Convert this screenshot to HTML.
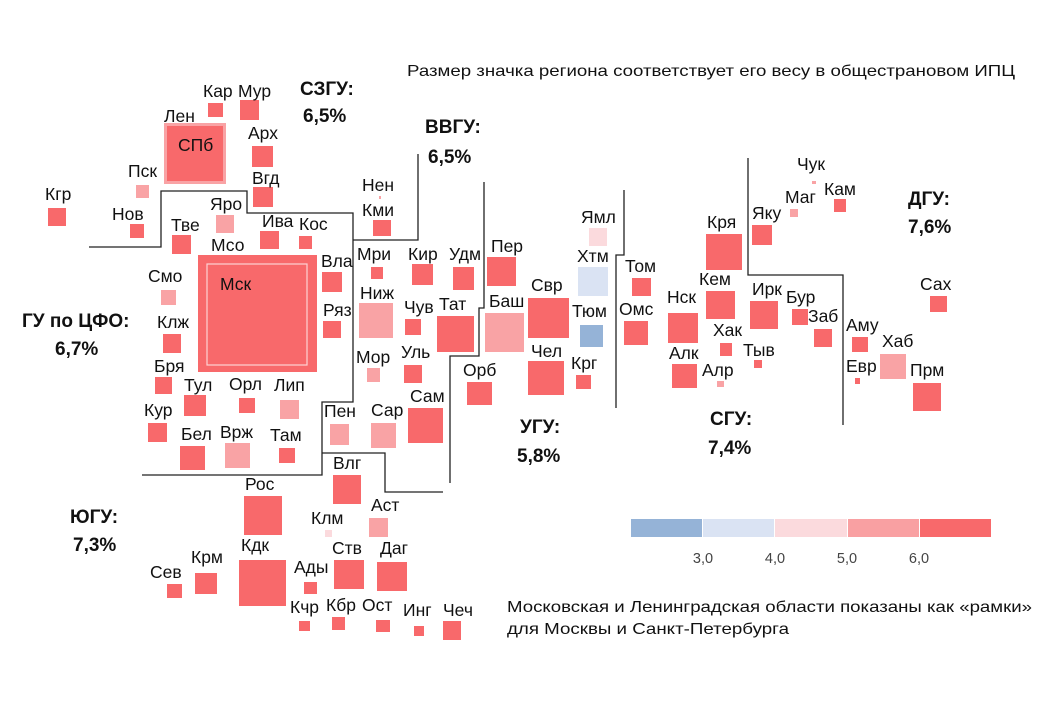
<!DOCTYPE html>
<html><head><meta charset="utf-8"><style>
html,body{margin:0;padding:0;background:#fff;}
svg{display:block;}
text{font-family:"Liberation Sans",sans-serif;fill:#111;}
.l{font-size:17.5px;}
.b{font-size:19px;font-weight:bold;}
</style></head><body>
<svg width="1040" height="720" viewBox="0 0 1040 720">
<g fill="none" stroke="#222" stroke-width="1.3">
<polyline points="89,247 161,247 161,191 247,191 247,213 353,213 353,402 322,402 322,475 142,475"/>
<polyline points="322,453 385,453 385,492 443,492"/>
<polyline points="353,240 418,240 418,154"/>
<polyline points="484,182 484,308 479,308 479,356 450,356 450,483"/>
<polyline points="624,190 624,255 616,255 616,408"/>
<polyline points="748,158 748,275 843,275 843,425"/>
</g>
<g fill="#F8696B">
<rect x="208" y="103" width="15" height="14"/>
<rect x="240" y="100" width="19" height="20"/>
<rect x="164" y="123" width="62" height="61" fill="#F9A3A5"/>
<rect x="167" y="126" width="56" height="55"/>
<rect x="252" y="146" width="21" height="21"/>
<rect x="253" y="187" width="20" height="20"/>
<rect x="136" y="185" width="13" height="13" fill="#F9A3A5"/>
<rect x="48" y="208" width="18" height="18"/>
<rect x="130" y="224" width="14" height="14"/>
<rect x="216" y="215" width="18" height="18" fill="#F9A3A5"/>
<rect x="172" y="235" width="19" height="19"/>
<rect x="260" y="231" width="19" height="18"/>
<rect x="299" y="236" width="13" height="13"/>
<rect x="198" y="255" width="119" height="117"/>
<rect x="207" y="264" width="100" height="101" fill="none" stroke="#fff" stroke-width="1.2" opacity=".7"/>
<rect x="161" y="290" width="15" height="15" fill="#F9A3A5"/>
<rect x="163" y="334" width="18" height="19"/>
<rect x="155" y="377" width="17" height="17"/>
<rect x="184" y="395" width="22" height="21"/>
<rect x="239" y="398" width="16" height="15"/>
<rect x="280" y="400" width="19" height="19" fill="#F9A3A5"/>
<rect x="148" y="423" width="19" height="19"/>
<rect x="180" y="446" width="25" height="24"/>
<rect x="225" y="443" width="25" height="25" fill="#F9A3A5"/>
<rect x="279" y="448" width="16" height="15"/>
<rect x="322" y="272" width="20" height="20"/>
<rect x="323" y="321" width="18" height="17"/>
<rect x="371" y="267" width="12" height="12"/>
<rect x="412" y="264" width="21" height="21"/>
<rect x="453" y="267" width="21" height="23"/>
<rect x="359" y="303" width="34" height="35" fill="#F9A3A5"/>
<rect x="405" y="319" width="16" height="16"/>
<rect x="437" y="316" width="37" height="36"/>
<rect x="367" y="368" width="13" height="14" fill="#F9A3A5"/>
<rect x="404" y="365" width="18" height="18"/>
<rect x="330" y="424" width="19" height="21" fill="#F9A3A5"/>
<rect x="371" y="423" width="25" height="25" fill="#F9A3A5"/>
<rect x="408" y="408" width="35" height="35"/>
<rect x="379" y="196" width="2" height="3" fill="#F9A3A5"/>
<rect x="373" y="220" width="18" height="16"/>
<rect x="487" y="257" width="29" height="29"/>
<rect x="485" y="313" width="39" height="39" fill="#F9A3A5"/>
<rect x="528" y="298" width="41" height="40"/>
<rect x="528" y="361" width="36" height="34"/>
<rect x="467" y="382" width="25" height="23"/>
<rect x="589" y="228" width="18" height="18" fill="#FBDADD"/>
<rect x="578" y="267" width="30" height="29" fill="#DAE3F3"/>
<rect x="580" y="325" width="23" height="22" fill="#95B3D7"/>
<rect x="576" y="375" width="15" height="14"/>
<rect x="632" y="278" width="19" height="18"/>
<rect x="624" y="321" width="24" height="24"/>
<rect x="668" y="313" width="30" height="30"/>
<rect x="672" y="364" width="25" height="24"/>
<rect x="706" y="234" width="36" height="36"/>
<rect x="706" y="291" width="29" height="28"/>
<rect x="720" y="343" width="12" height="13"/>
<rect x="717" y="381" width="7" height="6" fill="#F9A3A5"/>
<rect x="750" y="301" width="28" height="28"/>
<rect x="754" y="360" width="8" height="8"/>
<rect x="792" y="309" width="16" height="16"/>
<rect x="814" y="329" width="18" height="18"/>
<rect x="752" y="225" width="20" height="20"/>
<rect x="790" y="209" width="8" height="8" fill="#F9A3A5"/>
<rect x="812" y="181" width="4" height="3" fill="#F9A3A5"/>
<rect x="834" y="199" width="12" height="13"/>
<rect x="930" y="296" width="17" height="16"/>
<rect x="852" y="337" width="16" height="15"/>
<rect x="880" y="354" width="26" height="25" fill="#F9A3A5"/>
<rect x="855" y="378" width="5" height="6"/>
<rect x="913" y="383" width="28" height="28"/>
<rect x="333" y="475" width="28" height="29"/>
<rect x="244" y="496" width="38" height="39"/>
<rect x="325" y="530" width="7" height="7" fill="#FBDADD"/>
<rect x="369" y="518" width="19" height="19" fill="#F9A3A5"/>
<rect x="167" y="584" width="15" height="14"/>
<rect x="195" y="573" width="22" height="21"/>
<rect x="239" y="560" width="47" height="46"/>
<rect x="304" y="582" width="13" height="12"/>
<rect x="334" y="560" width="30" height="29"/>
<rect x="377" y="562" width="30" height="29"/>
<rect x="299" y="621" width="11" height="10"/>
<rect x="332" y="617" width="13" height="13"/>
<rect x="376" y="620" width="14" height="12"/>
<rect x="414" y="626" width="10" height="10"/>
<rect x="443" y="621" width="18" height="19"/>
</g>
<g class="l">
<text x="203" y="97">Кар</text><text x="238" y="97">Мур</text><text x="164" y="122">Лен</text>
<text x="178" y="151">СПб</text><text x="248" y="139">Арх</text><text x="252" y="184">Вгд</text>
<text x="128" y="177">Пск</text><text x="45" y="200">Кгр</text><text x="112" y="220">Нов</text>
<text x="210" y="210">Яро</text><text x="171" y="231">Тве</text><text x="262" y="227">Ива</text>
<text x="299" y="230">Кос</text><text x="211" y="251">Мсо</text><text x="220" y="290">Мск</text>
<text x="148" y="282">Смо</text><text x="157" y="328">Клж</text><text x="154" y="372">Бря</text>
<text x="184" y="391">Тул</text><text x="229" y="390">Орл</text><text x="274" y="391">Лип</text>
<text x="144" y="416">Кур</text><text x="181" y="440">Бел</text><text x="220" y="438">Врж</text>
<text x="270" y="441">Там</text><text x="321" y="267">Вла</text><text x="323" y="316">Ряз</text>
<text x="357" y="260">Мри</text><text x="408" y="260">Кир</text><text x="449" y="260">Удм</text>
<text x="360" y="299">Ниж</text><text x="404" y="313">Чув</text><text x="439" y="310">Тат</text>
<text x="356" y="363">Мор</text><text x="401" y="358">Уль</text><text x="324" y="417">Пен</text>
<text x="371" y="416">Сар</text><text x="410" y="402">Сам</text><text x="362" y="191">Нен</text>
<text x="362" y="216">Кми</text><text x="491" y="252">Пер</text><text x="489" y="307">Баш</text>
<text x="531" y="291">Свр</text><text x="531" y="357">Чел</text><text x="463" y="376">Орб</text>
<text x="581" y="223">Ямл</text><text x="577" y="262">Хтм</text><text x="572" y="317">Тюм</text>
<text x="571" y="369">Крг</text><text x="625" y="272">Том</text><text x="619" y="315">Омс</text>
<text x="667" y="303">Нск</text><text x="669" y="359">Алк</text><text x="707" y="228">Кря</text>
<text x="699" y="285">Кем</text><text x="713" y="336">Хак</text><text x="702" y="376">Алр</text>
<text x="752" y="295">Ирк</text><text x="743" y="356">Тыв</text><text x="786" y="303">Бур</text>
<text x="808" y="322">Заб</text><text x="752" y="219">Яку</text><text x="785" y="203">Маг</text>
<text x="797" y="170">Чук</text><text x="824" y="195">Кам</text><text x="920" y="290">Сах</text>
<text x="846" y="331">Аму</text><text x="882" y="347">Хаб</text><text x="846" y="372">Евр</text>
<text x="910" y="376">Прм</text><text x="333" y="469">Влг</text><text x="245" y="490">Рос</text>
<text x="311" y="524">Клм</text><text x="371" y="511">Аст</text><text x="150" y="578">Сев</text>
<text x="191" y="563">Крм</text><text x="241" y="551">Кдк</text><text x="294" y="573">Ады</text>
<text x="332" y="554">Ств</text><text x="380" y="554">Даг</text><text x="290" y="613">Кчр</text>
<text x="326" y="611">Кбр</text><text x="362" y="611">Ост</text><text x="403" y="616">Инг</text>
<text x="443" y="616">Чеч</text>
</g>
<g class="b">
<text x="300" y="95">СЗГУ:</text><text x="303" y="122">6,5%</text>
<text x="425" y="133">ВВГУ:</text><text x="428" y="163">6,5%</text>
<text x="22" y="327">ГУ по ЦФО:</text><text x="55" y="355">6,7%</text>
<text x="70" y="523">ЮГУ:</text><text x="73" y="551">7,3%</text>
<text x="520" y="433">УГУ:</text><text x="517" y="462">5,8%</text>
<text x="710" y="425">СГУ:</text><text x="708" y="454">7,4%</text>
<text x="908" y="205">ДГУ:</text><text x="908" y="233">7,6%</text>
</g>
<text x="407" y="76" font-size="16" textLength="608" lengthAdjust="spacingAndGlyphs">Размер значка региона соответствует его весу в общестрановом ИПЦ</text>
<text x="507" y="612" font-size="16" textLength="525" lengthAdjust="spacingAndGlyphs">Московская и Ленинградская области показаны как «рамки»</text>
<text x="507" y="634" font-size="16" textLength="282" lengthAdjust="spacingAndGlyphs">для Москвы и Санкт-Петербурга</text>
<rect x="631" y="519" width="71" height="18" fill="#95B3D7"/>
<rect x="703" y="519" width="71" height="18" fill="#DAE3F3"/>
<rect x="775" y="519" width="72" height="18" fill="#FBDADD"/>
<rect x="848" y="519" width="71" height="18" fill="#F9A0A2"/>
<rect x="920" y="519" width="71" height="18" fill="#F8696B"/>
<g font-size="14.5" text-anchor="middle">
<text x="703" y="563" style="fill:#444">3,0</text><text x="775" y="563" style="fill:#444">4,0</text>
<text x="847" y="563" style="fill:#444">5,0</text><text x="919" y="563" style="fill:#444">6,0</text>
</g>
</svg>
</body></html>
